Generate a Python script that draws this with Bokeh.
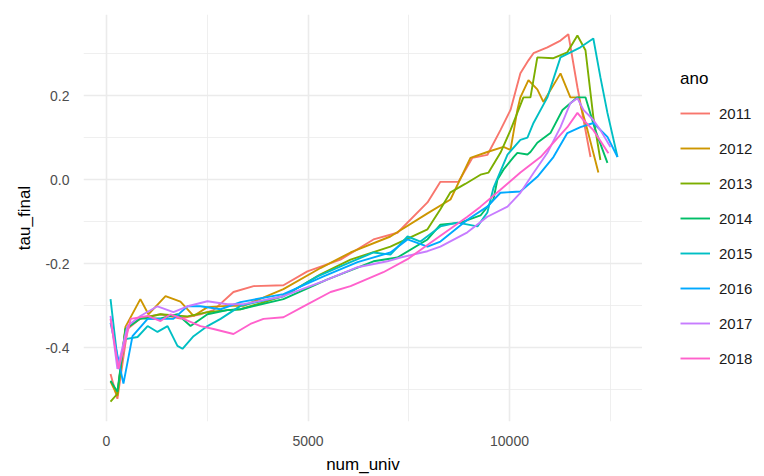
from bokeh.plotting import figure
from bokeh.layouts import row
from bokeh.models import Range1d, FixedTicker, PrintfTickFormatter, Legend, LegendItem
from bokeh.embed import file_html
from bokeh.resources import INLINE

years = ["2011", "2012", "2013", "2014", "2015", "2016", "2017", "2018"]
colors = ["#F8766D", "#CD9600", "#7CAE00", "#00BE67", "#00BFC4", "#00A9FF", "#C77CFF", "#FF61CC"]

x_2011 = [100, 270, 520, 840, 1340, 1835, 2330, 2655, 3150, 3650, 4390, 4985, 5805, 6625, 7220, 7965, 8285, 8735, 9080, 9450, 9775, 10025, 10270, 10470, 10595, 10940, 11265, 11460, 11685, 12010]
y_2011 = [-0.462, -0.521, -0.355, -0.33, -0.32, -0.33, -0.32, -0.31, -0.267, -0.253, -0.251, -0.218, -0.19, -0.142, -0.126, -0.054, -0.005, -0.005, 0.052, 0.059, 0.118, 0.166, 0.253, 0.284, 0.301, 0.315, 0.331, 0.346, 0.22, 0.054]

x_2012 = [100, 270, 470, 840, 1040, 1465, 1835, 2160, 2505, 3000, 3400, 4390, 5310, 6055, 7045, 7965, 8535, 9030, 9450, 9850, 10025, 10195, 10270, 10470, 10690, 10840, 11265, 11510, 11710, 11935, 12205]
y_2012 = [-0.48, -0.514, -0.35, -0.284, -0.32, -0.277, -0.29, -0.324, -0.303, -0.30, -0.30, -0.26, -0.21, -0.173, -0.135, -0.08, -0.047, 0.052, 0.066, 0.078, 0.071, 0.166, 0.196, 0.237, 0.215, 0.185, 0.253, 0.196, 0.196, 0.118, 0.017]

x_2013 = [100, 270, 470, 840, 1340, 2010, 2505, 3000, 3325, 4390, 5310, 6055, 7045, 7965, 8285, 8535, 8900, 9280, 9480, 9775, 10025, 10345, 10520, 10690, 11090, 11435, 11685, 11885, 12080, 12255]
y_2013 = [-0.528, -0.509, -0.355, -0.33, -0.32, -0.325, -0.315, -0.31, -0.308, -0.277, -0.225, -0.19, -0.159, -0.118, -0.07, -0.03, -0.01, 0.012, 0.017, 0.064, 0.118, 0.196, 0.196, 0.291, 0.289, 0.303, 0.343, 0.308, 0.149, 0.047]

x_2014 = [100, 270, 470, 840, 1340, 1760, 2085, 2505, 3000, 3325, 4390, 5485, 6625, 7220, 7965, 8285, 8785, 9280, 9600, 9700, 9850, 10100, 10195, 10445, 10520, 10690, 11015, 11315, 11685, 11885, 12130, 12430]
y_2014 = [-0.478, -0.504, -0.355, -0.33, -0.33, -0.32, -0.348, -0.32, -0.31, -0.308, -0.284, -0.237, -0.194, -0.185, -0.142, -0.107, -0.102, -0.085, -0.047, 0.0, 0.024, 0.054, 0.064, 0.06, 0.066, 0.088, 0.111, 0.166, 0.196, 0.196, 0.118, 0.040]

x_2015 = [100, 300, 470, 770, 1020, 1265, 1515, 1760, 1885, 2160, 2505, 2830, 3325, 4390, 5235, 6055, 6625, 7045, 7470, 7790, 8285, 8710, 9205, 9450, 9600, 9950, 10270, 10445, 10595, 10940, 11265, 11760, 12080, 12255, 12430, 12680]
y_2015 = [-0.284, -0.45, -0.379, -0.374, -0.348, -0.362, -0.348, -0.395, -0.402, -0.372, -0.348, -0.331, -0.30, -0.277, -0.23, -0.196, -0.173, -0.178, -0.135, -0.147, -0.111, -0.102, -0.111, -0.078, -0.02, 0.06, 0.095, 0.10, 0.135, 0.196, 0.291, 0.315, 0.336, 0.244, 0.159, 0.054]

x_2016 = [100, 420, 645, 1020, 1660, 2010, 2330, 2830, 3325, 4390, 5385, 6230, 7045, 7470, 7965, 8285, 8955, 9450, 9775, 10270, 10690, 11090, 11435, 11760, 12080, 12430, 12680]
y_2016 = [-0.34, -0.485, -0.372, -0.331, -0.331, -0.301, -0.301, -0.308, -0.291, -0.272, -0.23, -0.196, -0.173, -0.142, -0.159, -0.147, -0.095, -0.064, -0.031, -0.028, 0.007, 0.054, 0.111, 0.125, 0.135, 0.102, 0.054]

x_2017 = [100, 270, 520, 840, 1265, 1660, 2010, 2505, 3000, 3400, 4390, 5385, 6230, 6970, 7295, 7965, 8285, 8955, 9450, 9950, 10270, 10595, 10940, 11265, 11510, 11685, 11835, 12080, 12255, 12505]
y_2017 = [-0.324, -0.45, -0.348, -0.324, -0.301, -0.315, -0.301, -0.289, -0.296, -0.296, -0.277, -0.241, -0.208, -0.194, -0.185, -0.17, -0.159, -0.125, -0.088, -0.064, -0.031, 0.016, 0.064, 0.125, 0.182, 0.194, 0.166, 0.142, 0.118, 0.078]

x_2018 = [100, 300, 600, 1020, 1340, 1590, 1910, 2330, 2655, 3150, 3570, 3895, 4390, 4890, 5560, 6055, 6870, 7470, 8040, 8955, 9280, 9775, 10270, 10770, 11090, 11435, 11685, 11835, 12080, 12455]
y_2018 = [-0.331, -0.45, -0.331, -0.324, -0.336, -0.32, -0.331, -0.348, -0.355, -0.367, -0.343, -0.331, -0.327, -0.301, -0.267, -0.253, -0.22, -0.189, -0.15, -0.088, -0.064, -0.024, 0.017, 0.054, 0.088, 0.125, 0.159, 0.142, 0.118, 0.063]

series_x = [x_2011, x_2012, x_2013, x_2014, x_2015, x_2016, x_2017, x_2018]
series_y = [y_2011, y_2012, y_2013, y_2014, y_2015, y_2016, y_2017, y_2018]

x_ticks = [0, 5000, 10000]
x_minor = [2500, 7500, 12500]
y_ticks = [-0.4, -0.2, 0.0, 0.2]
y_minor = [-0.5, -0.3, -0.1, 0.1, 0.3]

FONT = "Liberation Sans"

p = figure(width=642, height=476, output_backend="svg", toolbar_location=None,
           x_range=Range1d(-571, 13300), y_range=Range1d(-0.575, 0.393),
           min_border_left=83, min_border_right=0, min_border_top=14, min_border_bottom=53)
p.outline_line_color = None
p.background_fill_color = "white"
p.border_fill_color = "white"

for col, xs, ys in zip(colors, series_x, series_y):
    p.line(xs, ys, line_color=col, line_width=1.9)

p.xaxis.ticker = FixedTicker(ticks=x_ticks, minor_ticks=x_minor)
p.yaxis.ticker = FixedTicker(ticks=y_ticks, minor_ticks=y_minor)
p.xaxis.formatter = PrintfTickFormatter(format="%d")
p.yaxis.formatter = PrintfTickFormatter(format="%.1f")

for ax in (p.xaxis[0], p.yaxis[0]):
    ax.axis_line_color = None
    ax.major_tick_line_color = None
    ax.minor_tick_line_color = None
    ax.major_label_text_font = FONT
    ax.major_label_text_font_size = "14px"
    ax.major_label_text_color = "#4D4D4D"
    ax.axis_label_text_font = FONT
    ax.axis_label_text_font_size = "17px"
    ax.axis_label_text_font_style = "normal"
    ax.axis_label_text_color = "black"
    ax.major_label_standoff = 8

p.xaxis.axis_label = "num_univ"
p.yaxis.axis_label = "tau_final"
p.xaxis.axis_label_standoff = 6
p.yaxis.axis_label_standoff = 8

for g in (p.xgrid[0], p.ygrid[0]):
    g.grid_line_color = "#EBEBEB"
    g.grid_line_width = 1.6
    g.minor_grid_line_color = "#EBEBEB"
    g.minor_grid_line_width = 0.8

# legend panel: a separate figure holding only the legend
p2 = figure(width=122, height=476, output_backend="svg", toolbar_location=None,
            x_range=Range1d(0, 1), y_range=Range1d(0, 1),
            x_axis_type=None, y_axis_type=None,
            min_border_left=0, min_border_right=0, min_border_top=0, min_border_bottom=0)
p2.outline_line_color = None
p2.xgrid.visible = False
p2.ygrid.visible = False
p2.background_fill_color = "white"
p2.border_fill_color = "white"

items = []
for yr, col in zip(years, colors):
    # placeholder lines outside the visible range, used only for legend glyphs
    r = p2.line([5, 6], [5, 6], line_color=col, line_width=1.9)
    items.append(LegendItem(label=yr, renderers=[r]))

legend = Legend(items=items, title="ano", location=(38, 53))
legend.title_text_font = FONT
legend.title_text_font_size = "17px"
legend.title_text_font_style = "normal"
legend.title_text_color = "black"
legend.title_standoff = 14
legend.label_text_font = FONT
legend.label_text_font_size = "15px"
legend.label_text_color = "#1A1A1A"
legend.glyph_width = 30
legend.glyph_height = 20
legend.label_height = 20
legend.spacing = 15
legend.label_standoff = 9
legend.padding = 8
legend.margin = 0
legend.border_line_color = None
legend.background_fill_alpha = 0
p2.add_layout(legend, "center")

layout = row(p, p2, spacing=0)
open("out.html", "w").write(file_html(layout, INLINE))
